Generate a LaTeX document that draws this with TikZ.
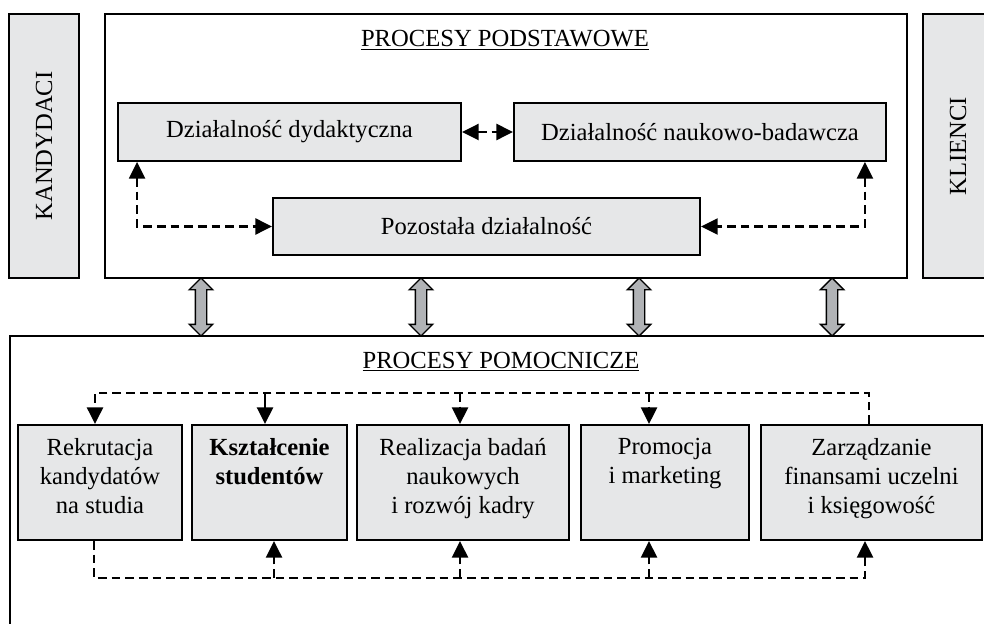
\documentclass[tikz,border=0pt]{standalone}
\usepackage{fontspec}
\setmainfont{Liberation Serif}
\usetikzlibrary{arrows.meta,shapes.arrows}

\definecolor{boxgray}{HTML}{E6E7E8}
\definecolor{arrowgray}{HTML}{B1B3B6}

\begin{document}
\begin{tikzpicture}[
    font=\fontsize{21}{25}\selectfont,
    box/.style={draw, line width=1.6pt, fill=boxgray, inner sep=0pt},
    frame/.style={draw, line width=1.6pt, inner sep=0pt},
    flow/.style={dash pattern=on 0.26cm off 0.15cm, line width=1.9pt},
    tip/.style={-{Triangle[length=0.5cm,width=0.48cm]}},
    dtip/.style={{Triangle[length=0.5cm,width=0.48cm]}-{Triangle[length=0.5cm,width=0.48cm]}},
    link/.style={double arrow, draw, line width=1.2pt, fill=arrowgray, rotate=90,
        minimum height=1.74cm, minimum width=0.66cm, inner sep=0.15cm,
        double arrow head extend=0.18cm}
]
    \useasboundingbox (0,0) rectangle (29.52,18.69);

    % Define the side boxes
    \node[box, rotate=90, minimum width=7.92cm, minimum height=2.1cm] (kand) at (1.32,14.31) {KANDYDACI};
    \node[box, rotate=90, minimum width=7.92cm, minimum height=2.1cm] (kli) at (28.74,14.31) {KLIENCI};

    % Core processes
    \node[frame, minimum width=24.06cm, minimum height=7.92cm] (podst) at (15.18,14.31) {};
    \node[anchor=base] (podstt) at (15.15,17.28) {\underline{PROCESY PODSTAWOWE}};
    \node[box, minimum width=10.29cm, minimum height=1.74cm] (dyd) at (8.685,14.73) {Działalność dydaktyczna};
    \node[box, minimum width=11.16cm, minimum height=1.74cm] (nauk) at (21.0,14.73) {Działalność naukowo-badawcza};
    \node[box, minimum width=12.81cm, minimum height=1.71cm] (poz) at (14.595,11.895) {Pozostała działalność};
    \draw[flow, dtip] (dyd.east) -- (nauk.west);
    \draw[flow, dtip] ([xshift=0.6cm]dyd.south west) |- (poz.west);
    \draw[flow, dtip] ([xshift=-0.66cm]nauk.south east) |- (poz.east);

    % Links between the two layers
    \foreach \x/\n in {6.03/l1, 12.63/l2, 19.17/l3, 24.96/l4}
        \node[link] (\n) at (\x,9.48) {};

    % Support processes
    \node[frame, minimum width=30.7cm, minimum height=9.6cm] (pomoc) at (15.64,3.81) {};
    \node[anchor=base] (pomoct) at (15.03,7.65) {\underline{PROCESY POMOCNICZE}};
    \node[box, minimum width=4.92cm, minimum height=3.45cm] (rek) at (3.0,4.215) {};
    \node[box, minimum width=4.65cm, minimum height=3.45cm] (ksz) at (8.085,4.215) {};
    \node[box, minimum width=6.36cm, minimum height=3.45cm] (bad) at (13.89,4.215) {};
    \node[box, minimum width=5.04cm, minimum height=3.45cm] (prom) at (19.95,4.215) {};
    \node[box, minimum width=6.63cm, minimum height=3.45cm] (fin) at (26.145,4.215) {};
    \node[anchor=north, align=center, inner sep=0pt] (rekt) at ([yshift=-0.42cm]rek.north) {Rekrutacja\\kandydatów\\na studia};
    \node[anchor=north, align=center, inner sep=0pt, font=\fontsize{21}{25}\selectfont\bfseries] (kszt) at ([yshift=-0.42cm]ksz.north) {Kształcenie\\studentów};
    \node[anchor=north, align=center, inner sep=0pt] (badt) at ([yshift=-0.42cm]bad.north) {Realizacja badań\\naukowych\\i rozwój kadry};
    \node[anchor=north, align=center, inner sep=0pt] (promt) at ([yshift=-0.42cm]prom.north) {Promocja\\i marketing};
    \node[anchor=north, align=center, inner sep=0pt] (fint) at ([yshift=-0.42cm]fin.north) {Zarządzanie\\finansami uczelni\\i księgowość};

    % Upper and lower buses
    \coordinate (top) at (0,6.9);
    \coordinate (bot) at (0,1.35);
    \draw[flow, tip] ([xshift=-0.075cm]fin.north) |- ([xshift=-0.15cm]rek.north |- top) -- ([xshift=-0.15cm]rek.north);
    \draw[line width=1.9pt, tip] ([xshift=-0.135cm]ksz.north |- top) -- ([xshift=-0.135cm]ksz.north);
    \draw[flow, tip] ([xshift=-0.09cm]bad.north |- top) -- ([xshift=-0.09cm]bad.north);
    \draw[flow, tip] ([xshift=-0.48cm]prom.north |- top) -- ([xshift=-0.48cm]prom.north);
    \draw[flow, tip] ([xshift=-0.18cm]rek.south) |- ([xshift=-0.195cm]fin.south |- bot) -- ([xshift=-0.195cm]fin.south);
    \draw[flow, tip] ([xshift=0.135cm]ksz.south |- bot) -- ([xshift=0.135cm]ksz.south);
    \draw[flow, tip] ([xshift=-0.09cm]bad.south |- bot) -- ([xshift=-0.09cm]bad.south);
    \draw[flow, tip] ([xshift=-0.48cm]prom.south |- bot) -- ([xshift=-0.48cm]prom.south);
\end{tikzpicture}
\end{document}
